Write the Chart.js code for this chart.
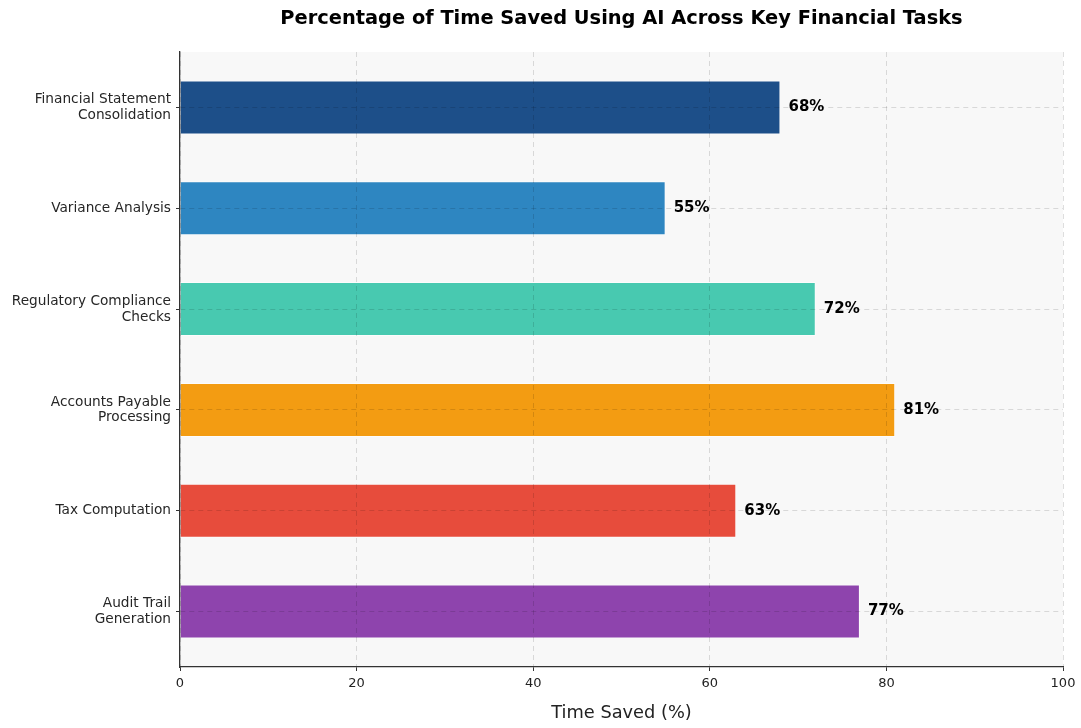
<!DOCTYPE html>
<html>
<head>
<meta charset="utf-8">
<script src="https://cdn.jsdelivr.net/npm/chart.js@4/dist/chart.umd.min.js"></script>
<style>
  html, body { margin: 0; padding: 0; background: #fff; }
  #wrap { width: 1081px; height: 728px; position: relative; }
</style>
</head>
<body>
<div id="wrap"><canvas id="chart"></canvas></div>
<script>
const tasks = [
  ['Financial Statement', 'Consolidation'],
  'Variance Analysis',
  ['Regulatory Compliance', 'Checks'],
  ['Accounts Payable', 'Processing'],
  'Tax Computation',
  ['Audit Trail', 'Generation']
]
const timeSaved = [68, 55, 72, 81, 63, 77]
const barColors = ['#1D4F89', '#2E86C1', '#48C9B0', '#F39C12', '#E74C3C', '#8E44AD']
const xTicks = [0, 20, 40, 60, 80, 100]

const FONT = 'DejaVu Sans'

// light panel behind the plot
const panelBg = {
  id: 'panelBg',
  beforeDraw(chart) {
    const { ctx, chartArea: a } = chart
    ctx.save()
    ctx.fillStyle = '#F8F8F8'
    ctx.fillRect(a.left, a.top, a.right - a.left, a.bottom - a.top)
    ctx.restore()
  }
}

// title over the plot area plus value labels at the bar ends
const annotate = {
  id: 'annotate',
  afterDraw(chart) {
    const { ctx, chartArea: a } = chart
    const xs = chart.scales.x
    const meta = chart.getDatasetMeta(0)
    ctx.save()
    ctx.fillStyle = '#000'
    ctx.textAlign = 'center'
    ctx.textBaseline = 'middle'
    ctx.font = `bold 19.4px ${FONT}`
    ctx.fillText('Percentage of Time Saved Using AI Across Key Financial Tasks', (a.left + a.right) / 2, 19)

    ctx.font = `bold 15px ${FONT}`
    ctx.textAlign = 'left'
    meta.data.forEach((bar, i) => {
      const v = timeSaved[i]
      ctx.fillText(v + '%', xs.getPixelForValue(v) + 8, bar.y)
    })
    ctx.restore()
  }
}

new Chart(document.getElementById('chart'), {
  type: 'bar',
  data: {
    datasets: [{
      data: timeSaved.map((v, i) => ({ x: v, y: i })),
      backgroundColor: barColors,
      borderColor: 'rgba(255,255,255,0.5)',
      borderWidth: 1,
      barPercentage: 0.535,
      categoryPercentage: 1.0
    }]
  },
  options: {
    indexAxis: 'y',
    responsive: true,
    maintainAspectRatio: false,
    animation: false,
    layout: { padding: { top: 52, right: 18, left: 0, bottom: 0 } },
    plugins: {
      legend: { display: false },
      tooltip: { enabled: false }
    },
    scales: {
      x: {
        type: 'linear',
        min: 0,
        max: 100,
        afterBuildTicks: s => { s.ticks = xTicks.map(v => ({ value: v })) },
        afterFit: s => { s.height = 61 },
        grid: { color: 'rgba(0,0,0,0.13)', lineWidth: 1, z: 1, tickColor: '#333', tickLength: 4 },
        border: { display: true, color: '#333', width: 1.3, dash: [5, 4], z: 2 },
        ticks: { color: '#222', font: { family: FONT, size: 13 }, padding: 5 },
        title: { display: true, text: 'Time Saved (%)', color: '#222', font: { family: FONT, size: 17.8 }, padding: { top: 8 } }
      },
      y: {
        type: 'linear',
        reverse: true,
        offset: false,
        min: -0.55,
        max: tasks.length - 1 + 0.55,
        afterBuildTicks: s => { s.ticks = tasks.map((_, i) => ({ value: i })) },
        afterFit: s => { s.width = 180 },
        grid: { offset: false, color: 'rgba(0,0,0,0.13)', lineWidth: 1, z: 1, tickColor: '#333', tickLength: 4 },
        border: { display: true, color: '#333', width: 1.3, dash: [5, 4], z: 2 },
        ticks: {
          color: '#262626',
          font: { family: FONT, size: 13.7, lineHeight: 1.15 },
          padding: 5,
          callback: v => tasks[v]
        }
      }
    }
  },
  plugins: [panelBg, annotate]
})
</script>
</body>
</html>
